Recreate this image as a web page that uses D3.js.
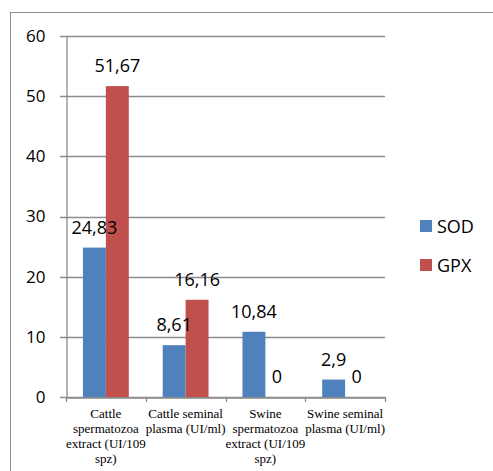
<!DOCTYPE html>
<html>
<head>
<meta charset="utf-8">
<script src="https://cdn.jsdelivr.net/npm/d3@7"></script>
<style>
  body { margin: 0; background: #fff; }
  svg { display: block; }
  .cat { font-family: "Liberation Serif", "DejaVu Serif", serif; font-size: 13px; }
  .num { font-family: "Open Sans", sans-serif; }
</style>
</head>
<body>
<svg id="chart" width="493" height="471"></svg>
<script>
// data
const categories = ['cattleSpz', 'cattlePlasma', 'swineSpz', 'swinePlasma'];
const categoryLines = [
    ['Cattle', 'spermatozoa', 'extract (UI/109', 'spz)'],
    ['Cattle seminal', 'plasma (UI/ml)'],
    ['Swine', 'spermatozoa', 'extract (UI/109', 'spz)'],
    ['Swine seminal', 'plasma (UI/ml)']
];
const seriesNames = ['SOD', 'GPX'];
const sodValues = [24.83, 8.61, 10.84, 2.9];
const gpxValues = [51.67, 16.16, 0, 0];
const yTicks = [0, 10, 20, 30, 40, 50, 60];
const colors = ['#4f81bd', '#c0504d'];

const svg = d3.select('#chart');
const plotLeft = 66, plotRight = 385, plotTop = 36, plotBottom = 397;

// outer frame (only top and left edges show)
svg.append('rect')
    .attr('x', 10.5).attr('y', 12.5)
    .attr('width', 520).attr('height', 500)
    .attr('fill', 'none')
    .attr('stroke', '#8c8c8c');

const x = d3.scaleBand().domain(categories).range([plotLeft, plotRight]);
const xSub = d3.scaleBand().domain(seriesNames).range([0, x.bandwidth()]).paddingOuter(0.74);
const y = d3.scaleLinear().domain([0, 60]).range([plotBottom, plotTop]);

// gridlines
svg.append('g')
    .selectAll('line')
    .data(yTicks)
    .enter()
    .append('line')
    .attr('x1', plotLeft - 6).attr('x2', plotRight)
    .attr('y1', d => Math.round(y(d)) + 0.5)
    .attr('y2', d => Math.round(y(d)) + 0.5)
    .attr('stroke', '#8c8c8c')
    .attr('stroke-width', 1.3);

// y axis
const yAxis = svg.append('g')
    .attr('transform', `translate(${plotLeft + 0.5},0)`)
    .call(d3.axisLeft(y).tickValues(yTicks).tickSize(0).tickPadding(21));
yAxis.select('.domain').attr('stroke', '#8c8c8c').attr('stroke-width', 1.3);
yAxis.selectAll('text')
    .attr('class', 'num')
    .attr('font-size', 17)
    .attr('fill', '#000');

// bars first, then all value labels on top
const series = [sodValues, gpxValues];
series.forEach((vals, s) => {
    svg.append('g')
        .selectAll('rect')
        .data(vals)
        .enter()
        .append('rect')
        .attr('x', (d, i) => x(categories[i]) + xSub(seriesNames[s]))
        .attr('y', d => y(d))
        .attr('width', xSub.bandwidth())
        .attr('height', d => y(0) - y(d))
        .attr('fill', colors[s]);
});
series.forEach((vals, s) => {
    svg.append('g')
        .selectAll('text')
        .data(vals)
        .enter()
        .append('text')
        .attr('class', 'num')
        .attr('x', (d, i) => x(categories[i]) + xSub(seriesNames[s]) + xSub.bandwidth() / 2)
        .attr('y', d => y(d) - 14)
        .attr('text-anchor', 'middle')
        .attr('font-size', 18)
        .attr('fill', '#000')
        .text(d => String(d).replace('.', ','));
});

// x axis
const xAxis = svg.append('g')
    .attr('transform', `translate(0,${Math.round(plotBottom) + 0.5})`)
    .call(d3.axisBottom(x).tickSize(0).tickFormat(''));
xAxis.select('.domain').attr('stroke', '#8c8c8c').attr('stroke-width', 1.3);
xAxis.selectAll('.tick').remove();

const bounds = categories.map(c => x(c)).concat([plotRight]);
svg.append('g')
    .selectAll('line')
    .data(bounds)
    .enter()
    .append('line')
    .attr('x1', d => Math.round(d) + 0.5).attr('x2', d => Math.round(d) + 0.5)
    .attr('y1', plotBottom).attr('y2', plotBottom + 5)
    .attr('stroke', '#8c8c8c')
    .attr('stroke-width', 1.3);

// category labels
categories.forEach((c, i) => {
    const t = svg.append('text')
        .attr('class', 'cat')
        .attr('x', x(c) + x.bandwidth() / 2)
        .attr('y', 418)
        .attr('text-anchor', 'middle')
        .attr('fill', '#000');
    categoryLines[i].forEach((line, k) => {
        t.append('tspan')
            .attr('x', x(c) + x.bandwidth() / 2)
            .attr('y', 418 + k * 15)
            .text(line);
    });
});

// legend
const legend = svg.append('g');
seriesNames.forEach((name, s) => {
    legend.append('rect')
        .attr('x', 420).attr('y', 220 + s * 39)
        .attr('width', 12).attr('height', 12)
        .attr('fill', colors[s]);
    legend.append('text')
        .attr('class', 'num')
        .attr('x', 437).attr('y', 233 + s * 39)
        .attr('font-size', 18)
        .attr('fill', '#000')
        .text(name);
});
</script>
</body>
</html>
